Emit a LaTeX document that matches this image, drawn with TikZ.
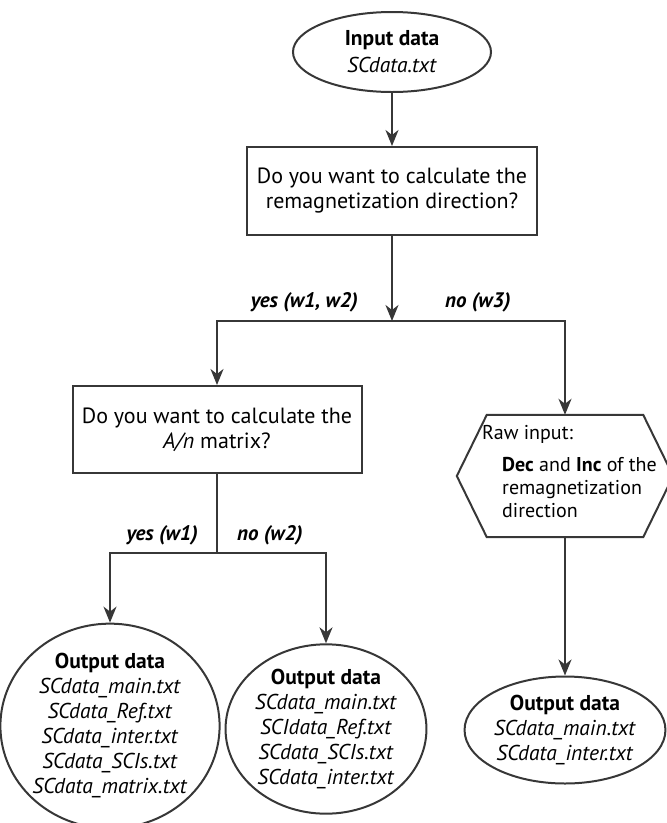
\documentclass[tikz,border=0pt]{standalone}
\usepackage{fontspec}
\setmainfont{PT Sans}
\usepackage{tikz}
\usetikzlibrary{arrows.meta, positioning, shapes.geometric, calc}
\definecolor{lineGray}{RGB}{55, 55, 55}

\tikzset{
    flowline/.style={draw=lineGray, line width=2pt},
    flowarrow/.style={flowline, -{Stealth[length=16pt, width=13pt, inset=5pt]}},
    question/.style={draw=lineGray, line width=2pt, rectangle, minimum width=290pt, minimum height=88pt, align=center, font=\fontsize{22}{25}\selectfont},
    datafile/.style={draw=lineGray, line width=2pt, ellipse, inner sep=0pt, align=center, font=\fontsize{21.5}{25}\selectfont},
    branchlabel/.style={inner sep=0pt, font=\fontsize{21}{22}\selectfont\bfseries\itshape}
}

\begin{document}
\begin{tikzpicture}[x=1pt, y=-1pt]
    \useasboundingbox (0,0) rectangle (667,823);

    \node[datafile, minimum width=198pt, minimum height=80pt] (input) at (392,52) {\textbf{Input data}\\[2pt] \textit{SCdata.txt}};

    \node[question] (askdir) at (392,191) {Do you want to calculate the\\ remagnetization direction?};

    \coordinate (split) at (392,321);
    \node[question, minimum width=289pt, minimum height=87pt] (askmat) at (217,429.5) {Do you want to calculate the\\ \textit{A/n} matrix?};

    \node[minimum width=156pt, minimum height=122pt, inner sep=0pt] (raw) at (565,476) {};
    \draw[flowline, line join=miter] (raw.north west) -- (raw.north east) -- ($(raw.east)+(30,0)$) -- (raw.south east) -- (raw.south west) -- ($(raw.west)+(-30,0)$) -- cycle;
    \node[anchor=west, inner sep=0pt, align=left, font=\fontsize{20}{23}\selectfont] (rawtext) at (482,472) {Raw input:\\[9pt] \hspace*{20pt}\textbf{Dec} and \textbf{Inc} of the\\ \hspace*{20pt}remagnetization\\ \hspace*{20pt}direction};

    \node[branchlabel, anchor=east] (yesA) at (358,302) {yes (w1, w2)};
    \node[branchlabel, anchor=west] (noA) at (445,302) {no (w3)};

    \coordinate (split2) at (217,553);
    \node[branchlabel, anchor=east] (yesB) at (198,535) {yes (w1)};
    \node[branchlabel, anchor=west] (noB) at (237,535) {no (w2)};

    \node[datafile, minimum width=192pt, minimum height=192pt] (outA) at (110,726) {\textbf{Output data}\\ \textit{SCdata\_main.txt}\\ \textit{SCdata\_Ref.txt}\\ \textit{SCdata\_inter.txt}\\ \textit{SCdata\_SCIs.txt}\\ \textit{SCdata\_matrix.txt}};
    \node[datafile, minimum width=194pt, minimum height=168pt] (outB) at (326,729) {\textbf{Output data}\\ \textit{SCdata\_main.txt}\\ \textit{SCIdata\_Ref.txt}\\ \textit{SCdata\_SCIs.txt}\\ \textit{SCdata\_inter.txt}};
    \node[datafile, minimum width=196pt, minimum height=107pt] (outC) at (565,730) {\textbf{Output data}\\ \textit{SCdata\_main.txt}\\ \textit{SCdata\_inter.txt}};

    \draw[flowarrow] (input) -- (askdir);
    \draw[flowarrow] (askdir) -- (split);
    \draw[flowarrow] (split) -| (askmat.north);
    \draw[flowarrow] (split) -| (raw.north);
    \draw[flowline] (askmat) -- (split2);
    \draw[flowarrow] (split2) -| (outA.north);
    \draw[flowarrow] (split2) -| (outB.north);
    \draw[flowarrow] (raw) -- (outC);
\end{tikzpicture}
\end{document}
